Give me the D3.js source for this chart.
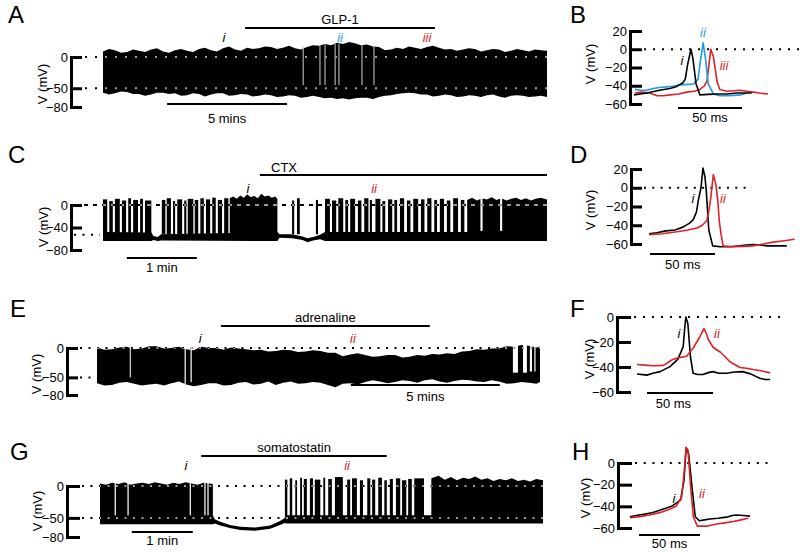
<!DOCTYPE html>
<html>
<head>
<meta charset="utf-8">
<script src="https://cdn.jsdelivr.net/npm/d3@7"></script>
<style>
body { margin: 0; background: #fff; }
svg { display: block; }
</style>
</head>
<body>
<script>
// ---------- data ----------

// A: GLP-1, envelope of the recording every 0.25 min (mV)
var aT = d3.range(0, 18.51, 0.25);
var aTop = [9, 13, 11, 7, 8, 12, 10, 8, 12, 14, 9, 7, 11, 13, 10, 8, 13, 15, 11, 9,
            14, 17, 12, 10, 15, 13, 14, 17, 16, 13, 15, 18, 14, 12, 16, 19, 18, 21, 19, 23,
            21, 24, 22, 19, 20, 17, 16, 11, 12, 15, 13, 17, 15, 13, 16, 18, 15, 12, 13, 10,
            12, 14, 13, 9, 11, 13, 12, 8, 10, 13, 11, 9, 12, 11, 10];
var aBot = [-57, -60, -58, -55, -56, -59, -59, -62, -60, -57, -57, -59, -58, -62, -61, -58, -59, -63, -60, -58,
            -58, -62, -61, -59, -60, -63, -62, -60, -61, -64, -63, -61, -62, -65, -64, -62, -64, -66, -65, -67,
            -66, -68, -66, -65, -65, -67, -64, -62, -61, -59, -58, -57, -58, -60, -60, -63, -62, -60, -61, -64,
            -63, -61, -62, -64, -61, -60, -63, -65, -62, -61, -62, -64, -63, -62, -64];
var aGaps = [[8.32, 8.36, 18, -45], [9.02, 9.06, 20, -45], [9.23, 9.27, 20, -45], [9.65, 9.69, 21, -45],
             [9.81, 9.85, 21, -45], [10.77, 10.81, 20, -45], [11.27, 11.31, 19, -45]];
var aDrug = [5.92, 13.83];
var aMarks = [[5.04, 'i', 'black'], [9.88, 'ii', 'blue'], [13.5, 'iii', 'red']];

// B: single action potentials (ms, mV)
var bBlack = [[0, -50], [10, -48], [20, -45], [28, -43], [33, -41], [38, -37], [40, -33], [42, -16], [44.5, 0],
              [46, -10], [48.5, -38], [51.5, -50], [58, -49.5], [65, -49], [72.5, -49], [80, -48], [88, -48], [92, -48]];
var bBlue = [[0.8, -44], [5, -45], [10, -45], [15, -43], [20, -42], [28, -41], [36, -39], [42, -38.5], [46.5, -38],
             [50, -33], [52, -12], [54, 7], [56, -12], [58, -38], [62, -49], [67, -51], [72.5, -51], [78, -50.5],
             [83, -50], [88, -48]];
var bRed = [[0.8, -48], [6, -47], [12, -48], [18, -51], [23, -51], [28, -50], [35, -49], [41, -47], [47, -46],
            [51.5, -44], [55, -40], [57, -35], [59, -12], [60, 0], [62, -8], [65, -36], [67, -44], [72.5, -46],
            [78, -45.5], [83, -45], [88, -46], [93, -47], [98, -48], [104.7, -49]];

// C: CTX. baseline band [t, high, low], spike runs [t0, t1, peak], dense bursts [t, peak]
var cBand = [[0, -48, -64], [0.69, -49, -64], [0.72, -55, -62], [0.78, -57, -64], [0.83, -52, -63],
             [2.49, -48, -64], [2.52, -52, -58], [2.7, -52, -59], [2.85, -56, -62], [2.92, -59, -66],
             [3.0, -57, -63], [3.1, -53, -61], [3.17, -48, -64], [6.34, -48, -64]];
var cRuns = [[0.00, 0.06, 10], [0.09, 0.14, 7], [0.17, 0.24, 11], [0.27, 0.33, 8], [0.36, 0.40, 12],
             [0.43, 0.50, 9], [0.53, 0.57, 11], [0.60, 0.69, 8], [0.84, 0.89, 9], [0.91, 0.97, 12],
             [1.00, 1.03, 7], [1.06, 1.13, 10], [1.16, 1.19, 8], [1.21, 1.29, 11], [1.31, 1.36, 9],
             [1.39, 1.44, 12], [1.47, 1.53, 10], [1.56, 1.61, 13], [1.64, 1.70, 9], [1.73, 1.79, 12],
             [2.70, 2.73, 8], [2.77, 2.81, 12], [3.04, 3.07, 9], [3.17, 3.24, 11], [3.27, 3.33, 8],
             [3.36, 3.43, 12], [3.46, 3.50, 9], [3.53, 3.60, 11], [3.64, 3.69, 8], [3.73, 3.79, 12],
             [3.81, 3.84, 9], [3.89, 3.96, 11], [3.99, 4.03, 7], [4.07, 4.13, 10], [4.16, 4.20, 9],
             [4.24, 4.30, 12], [4.34, 4.39, 8], [4.43, 4.50, 11], [4.54, 4.59, 10], [4.63, 4.69, 12],
             [4.73, 4.77, 9], [4.81, 4.87, 11], [4.91, 4.96, 8], [5.00, 5.07, 12], [5.11, 5.16, 9]];
var cDense = [
    [[1.81, 12], [1.86, 15], [1.91, 11], [1.96, 17], [2.01, 13], [2.06, 19], [2.11, 14], [2.16, 16],
     [2.21, 12], [2.26, 20], [2.31, 15], [2.36, 17], [2.41, 13], [2.46, 15], [2.49, 11]],
    [[5.20, 9], [5.27, 13], [5.34, 8], [5.41, 12], [5.48, 10], [5.55, 14], [5.62, 9], [5.69, 12], [5.76, 8],
     [5.83, 11], [5.90, 13], [5.97, 9], [6.04, 12], [6.11, 8], [6.18, 11], [6.25, 13], [6.34, 10]]
];
var cGaps = [[5.39, 5.42, 14, -46], [5.67, 5.70, 14, -46]];
var cDrug = [2.24, 6.34];
var cMarks = [[2.07, 'i', 'black'], [3.87, 'ii', 'red']];

// D
var dBlack = [[0, -49], [6, -48], [13, -46], [20, -45], [26, -42], [31, -38], [34, -34], [36.5, -26], [38, -13],
              [40, 0], [41.5, 21], [43, 12], [44, -2], [46, -45], [49, -62], [55, -63], [62, -63], [70, -62],
              [75, -61], [80, -60.5], [85, -61], [91, -62], [98, -62], [106, -62]];
var dRed = [[0, -50], [10, -49], [21.5, -47], [30, -45], [37, -43], [41, -40], [44.5, -35], [46, -25], [47.5, -11],
            [49.5, 14], [51.5, 3], [53, -15], [54, -35], [55.5, -50], [57, -62], [64.5, -63], [72, -62.5],
            [80, -62], [88, -60], [95.5, -58], [104, -56.5], [112, -55]];

// E: adrenaline, envelope every 0.25 min
var eT = d3.range(0, 14.76, 0.25).concat([14.87]);
var eTop = [1, -3, -2, 1, 2, -2, -1, 3, 3, -1, 0, 2, -2, -4, 2, 0, 0, -3, 1, -1,
            -2, -4, -3, -6, -5, -3, -4, -7, -6, -4, -5, -8, -8, -14, -11, -9, -12, -15, -14, -12,
            -12, -16, -15, -12, -13, -10, -11, -9, -10, -6, -5, -2, -3, -1, -1, 3, 2, 5, 4, 1, 2];
var eBot = [-60, -64, -63, -59, -58, -61, -64, -62, -61, -64, -60, -57, -62, -65, -63, -60, -60, -64, -63, -59,
            -58, -62, -61, -57, -63, -59, -57, -61, -60, -58, -59, -63, -67, -61, -60, -62, -58, -55, -57, -60,
            -58, -55, -56, -59, -55, -53, -57, -59, -56, -54, -55, -57, -58, -55, -57, -61, -60, -58, -59, -61, -58];
var eGaps = [[1.10, 1.13, 2, -50], [2.94, 2.98, 5, -62], [3.14, 3.18, 3, -58], [13.96, 14.13, 6, -42],
             [14.30, 14.43, 6, -42], [14.53, 14.60, 6, -40], [14.68, 14.72, 6, -40]];
var eDrug = [4.16, 11.17];
var eMarks = [[3.46, 'i', 'black'], [8.59, 'ii', 'red']];

// F
var fBlack = [[0, -45.6], [7.5, -46.5], [12, -45], [17.5, -43.7], [25, -39.7], [31, -33.7], [35, -23.7],
              [36, -10.7], [37, 0], [38.5, -5], [40.5, -32], [42.5, -45], [46, -46], [50, -46], [54, -44.5],
              [57.5, -43.7], [62, -45], [68, -45], [74, -44], [80, -43.7], [86, -45.5], [93, -49], [97, -50],
              [100.8, -50]];
var fRed = [[0, -38], [6, -38.5], [12, -39], [20, -38.7], [24, -36], [27, -34], [32, -32.5], [37.5, -31.4],
            [42.5, -25], [47.5, -16], [50.7, -9.3], [52.5, -13], [54, -18], [57.5, -24], [60, -26], [63, -28],
            [66, -31], [70.5, -36], [74, -38], [78, -40.4], [83, -41], [88, -42], [94, -43], [100.8, -44.7]];

// G: somatostatin
var gBand = [[0, -45, -60], [1.85, -46, -60], [1.88, -52, -59], [1.97, -56, -62], [2.13, -61, -66],
             [2.3, -64, -69], [2.54, -65, -70], [2.79, -62, -67], [2.95, -55, -61], [3.03, -50, -58],
             [3.05, -46, -59], [7.26, -46, -59]];
var gRuns = [[3.03, 3.07, 10], [3.11, 3.15, 12], [3.20, 3.23, 9], [3.28, 3.31, 13], [3.34, 3.39, 11],
             [3.44, 3.49, 12], [3.52, 3.61, 10], [3.66, 3.69, 13], [3.74, 3.80, 11], [3.85, 3.98, 14],
             [4.05, 4.10, 10], [4.13, 4.21, 12], [4.26, 4.31, 9], [4.38, 4.43, 12], [4.46, 4.51, 10],
             [4.56, 4.62, 13], [4.66, 4.70, 9], [4.75, 4.80, 11], [4.85, 4.92, 12], [4.95, 5.02, 9],
             [5.05, 5.11, 11], [5.15, 5.31, 12]];
var gDense = [
    [[0, 4], [0.1, 2], [0.2, 5], [0.3, 3], [0.4, 6], [0.5, 2], [0.6, 4], [0.7, 5], [0.8, 3], [0.9, 6],
     [1.0, 4], [1.1, 2], [1.2, 5], [1.3, 3], [1.4, 6], [1.5, 4], [1.6, 2], [1.7, 5], [1.85, 3]],
    [[5.43, 12], [5.55, 16], [5.65, 10], [5.75, 14], [5.85, 9], [5.95, 13], [6.05, 11], [6.15, 15], [6.25, 10],
     [6.35, 12], [6.45, 8], [6.55, 11], [6.65, 9], [6.75, 12], [6.85, 8], [6.95, 10], [7.05, 7], [7.15, 11], [7.26, 9]]
];
var gGaps = [[0.24, 0.26, 5, -46], [0.45, 0.47, 5, -46], [1.47, 1.49, 5, -46], [1.71, 1.73, 5, -46],
             [1.76, 1.78, 5, -46]];
var gDrug = [1.66, 4.70];
var gMarks = [[1.41, 'i', 'black'], [4.05, 'ii', 'red']];

// H
var hBlack = [[0, -49.6], [5, -48.5], [11, -47.4], [18, -46], [25, -43.4], [30, -41.5], [35, -39.4], [41.5, -34],
              [44.3, -15.7], [46, 13.8], [48, 9], [50.8, -21.8], [53.5, -49.6], [56.8, -53.3], [61, -52.5],
              [65.6, -51.7], [72, -51], [79, -50], [84, -48.5], [87.5, -48], [93, -48.5], [98.4, -49]];
var hRed = [[0, -50.5], [8, -49.5], [16, -48], [25, -45.6], [32, -43], [38, -39.7], [42.4, -31], [44.3, -9.5],
            [46, 14.6], [47.5, 12], [49.7, -22], [51.9, -49.6], [55.2, -58.3], [62.8, -58.3], [68, -57],
            [73.8, -55.8], [79, -55], [84.7, -54], [91, -52.5], [97, -51]];

// ---------- drawing ----------
var FONT = '"Liberation Sans", Arial, Helvetica, sans-serif';
var COL = { black: '#000', red: '#dc2228', blue: '#1f9cdb' };

var svg = d3.select('body').append('svg')
    .attr('width', 800)
    .attr('height', 553)
    .style('font-family', FONT);
var defs = svg.append('defs');

function label(x, y, s, size, color, italic, anchor) {
    return svg.append('text')
        .attr('x', x).attr('y', y)
        .attr('font-size', size || 13)
        .attr('fill', color || '#000')
        .attr('font-style', italic ? 'italic' : null)
        .attr('text-anchor', anchor || 'middle')
        .text(s);
}

function hbar(x0, x1, y) {
    svg.append('line')
        .attr('x1', x0).attr('x2', x1).attr('y1', y).attr('y2', y)
        .attr('stroke', '#000').attr('stroke-width', 2);
}

function dotted(x0, x1, y, dash, color, clip) {
    svg.append('line')
        .attr('x1', x0).attr('x2', x1).attr('y1', y).attr('y2', y)
        .attr('stroke', color || '#000').attr('stroke-width', 2)
        .attr('stroke-dasharray', dash)
        .attr('clip-path', clip ? 'url(#' + clip + ')' : null);
}

function yAxis(ys, x, ticks, len) {
    var ax = d3.axisLeft(ys)
        .tickValues(ticks)
        .tickSize(-len)
        .tickSizeOuter(0)
        .tickPadding(3)
        .tickFormat(function(d) { return d < 0 ? '\u2212' + (-d) : String(d); });
    var g = svg.append('g')
        .attr('transform', 'translate(' + x + ',0)')
        .call(ax)
        .attr('font-size', 13)
        .attr('font-family', FONT);
    g.select('.domain').attr('stroke-width', 3).attr('stroke-linecap', 'square');
    g.selectAll('.tick line').attr('stroke-width', 3);
}

function yTitle(cx, cy) {
    svg.append('text')
        .attr('transform', 'translate(' + cx + ',' + cy + ') rotate(-90)')
        .attr('text-anchor', 'middle')
        .attr('dy', '0.35em')
        .attr('font-size', 13)
        .text('V (mV)');
}

function traceShapes(sel, xs, ys, band, runs, dense) {
    var area = d3.area()
        .x(function(d) { return xs(d[0]); })
        .y0(function(d) { return ys(d[2]); })
        .y1(function(d) { return ys(d[1]); });
    sel.append('path').attr('d', area(band));
    (dense || []).forEach(function(seg) {
        sel.append('path').attr('d', area(seg.map(function(d) { return [d[0], d[1], -52]; })));
    });
    sel.selectAll(null).data(runs || []).enter().append('rect')
        .attr('x', function(d) { return xs(d[0]); })
        .attr('width', function(d) { return Math.max(1.3, xs(d[1]) - xs(d[0])); })
        .attr('y', function(d) { return ys(d[2]); })
        .attr('height', function(d) { return ys(-52) - ys(d[2]); });
}

function drawTrace(id, xs, ys, band, runs, dense) {
    traceShapes(svg.append('g').attr('fill', '#000'), xs, ys, band, runs, dense);
    traceShapes(defs.append('clipPath').attr('id', id), xs, ys, band, runs, dense);
}

function whiteGaps(xs, ys, gaps, color) {
    svg.append('g').selectAll('rect').data(gaps).enter().append('rect')
        .attr('x', function(d) { return xs(d[0]); })
        .attr('width', function(d) { return Math.max(1, xs(d[1]) - xs(d[0])); })
        .attr('y', function(d) { return ys(d[2]); })
        .attr('height', function(d) { return ys(d[3]) - ys(d[2]); })
        .attr('fill', color);
}

function marks(xs, y, list) {
    list.forEach(function(m) { label(xs(m[0]), y, m[1], 13, COL[m[2]], true); });
}

function apLines(xs, ys, traces) {
    var line = d3.line()
        .x(function(d) { return xs(d[0]); })
        .y(function(d) { return ys(d[1]); });
    traces.forEach(function(tr) {
        svg.append('path')
            .attr('d', line(tr[0]))
            .attr('fill', 'none')
            .attr('stroke', COL[tr[1]])
            .attr('stroke-width', 1.6)
            .attr('stroke-linejoin', 'round');
    });
}

function zip(T, hi, lo) {
    return T.map(function(t, i) { return [t, hi[i], lo[i]]; });
}

// ----- A -----
var xA = d3.scaleLinear().domain([0, 18.5]).range([103, 547]);
var yA = d3.scaleLinear().domain([-80, 0]).range([107, 57]);
label(8, 23, 'A', 24, '#000', false, 'start');
yAxis(yA, 71, [0, -50, -80], 11);
yTitle(42, 84);
dotted(85, 547, yA(0), '2,8');
dotted(85, 547, yA(-50), '2,8');
drawTrace('clipA', xA, yA, zip(aT, aTop, aBot));
whiteGaps(xA, yA, aGaps, '#d0d0d0');
dotted(85, 547, yA(0), '2,8', '#9a9a9a', 'clipA');
dotted(85, 547, yA(-50), '2,8', '#9a9a9a', 'clipA');
hbar(xA(aDrug[0]), xA(aDrug[1]), 28);
label((xA(aDrug[0]) + xA(aDrug[1])) / 2, 24, 'GLP-1');
marks(xA, 42, aMarks);
hbar(xA(2.67), xA(7.67), 104);
label(xA(5.17), 123, '5 mins');

// ----- B -----
var xB = d3.scaleLinear().domain([0, 100]).range([634, 762]);
var yB = d3.scaleLinear().domain([-60, 20]).range([104, 31]);
label(570, 23, 'B', 24, '#000', false, 'start');
yAxis(yB, 630, [20, 0, -20, -40, -60], 12);
yTitle(590, 64);
dotted(644, 800, yB(0), '2,7');
apLines(xB, yB, [[bRed, 'red'], [bBlue, 'blue'], [bBlack, 'black']]);
label(682, 65, 'i', 13, COL.black, true);
label(703, 37, 'ii', 13, COL.blue, true);
label(724, 70, 'iii', 13, COL.red, true);
hbar(xB(34.4), xB(84.4), 108);
label(xB(59.4), 122, '50 ms');

// ----- C -----
var xC = d3.scaleLinear().domain([0, 6.34]).range([103, 547]);
var yC = d3.scaleLinear().domain([-80, 0]).range([250, 205]);
label(8, 163, 'C', 24, '#000', false, 'start');
yAxis(yC, 71, [0, -40, -80], 11);
yTitle(43, 227);
dotted(84, 547, yC(0), '4,5');
dotted(74, 100, yC(-53), '2,6.5');
drawTrace('clipC', xC, yC, cBand, cRuns, cDense);
whiteGaps(xC, yC, cGaps, '#fff');
dotted(84, 547, yC(0), '4,5', '#9a9a9a', 'clipC');
hbar(xC(cDrug[0]), xC(cDrug[1]), 175);
label(284, 172, 'CTX');
marks(xC, 193, cMarks);
hbar(xC(0.34), xC(1.34), 258);
label(xC(0.84), 272, '1 min');

// ----- D -----
var xD = d3.scaleLinear().domain([0, 100]).range([649, 779]);
var yD = d3.scaleLinear().domain([-60, 20]).range([244, 169]);
label(570, 163, 'D', 24, '#000', false, 'start');
yAxis(yD, 631, [20, 0, -20, -40, -60], 11);
yTitle(590, 210);
dotted(644, 752, yD(0), '2,6.3');
apLines(xD, yD, [[dBlack, 'black'], [dRed, 'red']]);
label(693, 203, 'i', 13, COL.black, true);
label(723, 203, 'ii', 13, COL.red, true);
hbar(xD(0.8), xD(50.8), 254);
label(xD(26), 269, '50 ms');

// ----- E -----
var xE = d3.scaleLinear().domain([0, 14.87]).range([97, 540]);
var yE = d3.scaleLinear().domain([-80, 0]).range([395, 348]);
label(10, 317, 'E', 24, '#000', false, 'start');
yAxis(yE, 67, [0, -50, -80], 11);
yTitle(36, 374);
dotted(80, 540, yE(0), '2,6.5');
dotted(80, 97, yE(-50), '2,6.5');
drawTrace('clipE', xE, yE, zip(eT, eTop, eBot));
whiteGaps(xE, yE, eGaps, '#fff');
dotted(80, 540, yE(0), '2,6.5', '#9a9a9a', 'clipE');
hbar(xE(eDrug[0]), xE(eDrug[1]), 326);
label((xE(eDrug[0]) + xE(eDrug[1])) / 2, 322, 'adrenaline');
marks(xE, 343, eMarks);
hbar(xE(8.52), xE(13.52), 385);
label(xE(11.02), 401, '5 mins');

// ----- F -----
var xF = d3.scaleLinear().domain([0, 100]).range([637, 769]);
var yF = d3.scaleLinear().domain([-60, 0]).range([392, 317]);
label(570, 317, 'F', 24, '#000', false, 'start');
yAxis(yF, 617, [0, -20, -40, -60], 14);
yTitle(589, 359);
dotted(634, 787, yF(0), '2,7');
apLines(xF, yF, [[fBlack, 'black'], [fRed, 'red']]);
label(679, 338, 'i', 13, COL.black, true);
label(717, 338, 'ii', 13, COL.red, true);
hbar(xF(7.6), xF(57.6), 393);
label(xF(27.6), 408, '50 ms');

// ----- G -----
var xG = d3.scaleLinear().domain([0, 7.26]).range([100, 543]);
var yG = d3.scaleLinear().domain([-80, 0]).range([537, 486]);
label(10, 460, 'G', 24, '#000', false, 'start');
yAxis(yG, 67, [0, -50, -80], 13);
yTitle(37, 511);
dotted(82, 543, yG(0), '2,6.5');
dotted(82, 543, yG(-50), '2,6.5');
drawTrace('clipG', xG, yG, gBand, gRuns, gDense);
whiteGaps(xG, yG, gGaps, '#fff');
dotted(82, 543, yG(0), '2,6.5', '#9a9a9a', 'clipG');
dotted(82, 543, yG(-50), '2,6.5', '#9a9a9a', 'clipG');
hbar(xG(gDrug[0]), xG(gDrug[1]), 456);
label((xG(gDrug[0]) + xG(gDrug[1])) / 2, 452, 'somatostatin');
marks(xG, 470, gMarks);
hbar(xG(0.52), xG(1.52), 532);
label(xG(1.02), 545, '1 min');

// ----- H -----
var xH = d3.scaleLinear().domain([0, 100]).range([630, 752]);
var yH = d3.scaleLinear().domain([-60, 0]).range([528, 463]);
label(572, 460, 'H', 24, '#000', false, 'start');
yAxis(yH, 618, [0, -20, -40, -60], 14);
yTitle(585, 498);
dotted(635, 773, yH(0), '2,6.7');
apLines(xH, yH, [[hBlack, 'black'], [hRed, 'red']]);
label(674, 503, 'i', 13, COL.black, true);
label(702, 498, 'ii', 13, COL.red, true);
hbar(xH(7.4), xH(57.4), 535);
label(xH(32.4), 548, '50 ms');
</script>
</body>
</html>
